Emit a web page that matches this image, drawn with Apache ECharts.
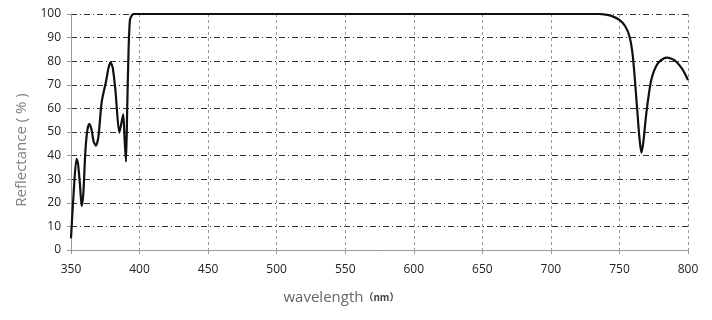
<!DOCTYPE html>
<html><head><meta charset="utf-8">
<script src="https://cdn.jsdelivr.net/npm/echarts@6/dist/echarts.min.js"></script>
<style>html,body{margin:0;padding:0;background:#fff}#c{width:712px;height:320px}</style>
</head><body><div id="c"></div>
<script>
const wavelength = [350,352,354,355,356.5,357.8,359,360.5,362,363.4,365,366.5,368.2,370,372.4,375.5,377.5,378.9,380.5,382.5,385.2,386.5,388.1,389,390.1,391,392,393,394.5,396,400,450,500,550,600,650,700,735,740,745,750,754,757.4,759.8,762.8,764.5,766,767.5,769.6,773.2,778,784.2,788,791.5,796,800];
const reflectance = [5,25,38.6,37,28,18.6,24,42,51,53.5,51,46,44.2,48,62.8,71.3,77.5,79.5,77,67,49.7,53,57.5,48,37.4,60,85,97.5,99.5,100,100,100,100,100,100,100,100,100,99.7,99,97.5,95,90.4,81.9,60.7,48,41.2,46,57.9,72,79.1,81.5,81,79.8,76.5,72];
const xTicks = {min:350, max:800, step:50};
const yTicks = {min:0, max:100, step:10};
const xName = 'wavelength';
const xUnit = '（nm）';
const yName = 'Reflectance ( % )';

const chart = echarts.init(document.getElementById('c'));
chart.setOption({
  animation:false,
  grid:{left:71, right:24, top:14, bottom:70},
  xAxis:{
    type:'value', min:xTicks.min, max:xTicks.max, interval:xTicks.step,
    name:'{a|'+xName+'}{b|'+xUnit+'}', nameLocation:'middle', nameGap:40,
    nameTextStyle:{padding:[0,76,0,0], rich:{a:{fontSize:15,color:'#666',fontFamily:'Open Sans'},b:{fontSize:10,color:'#444',fontWeight:'bold',fontFamily:'Noto Sans CJK SC'}}},
    axisLine:{show:true,lineStyle:{color:'#9a9a9a',width:1}},
    axisTick:{show:true,length:4,lineStyle:{color:'#9a9a9a'}},
    axisLabel:{color:'#222',fontSize:12,margin:14,fontFamily:'Open Sans'},
    splitLine:{show:true,lineStyle:{color:'#999',type:[3,3],width:1}}
  },
  yAxis:{
    type:'value', min:yTicks.min, max:yTicks.max, interval:yTicks.step,
    name:yName, nameLocation:'middle', nameGap:33,
    nameTextStyle:{fontSize:15,color:'#808080',fontFamily:'Open Sans',padding:[0,0,0,-36]},
    axisLine:{show:true,lineStyle:{color:'#9a9a9a',width:1}},
    axisTick:{show:true,length:4,lineStyle:{color:'#9a9a9a'}},
    axisLabel:{color:'#222',fontSize:12,margin:10,fontFamily:'Open Sans'},
    splitLine:{show:true,lineStyle:{color:'#333',type:[6,3,1,3],width:1}}
  },
  series:[{
    type:'line', data:wavelength.map((w,i)=>[w,reflectance[i]]),
    smooth:0.25, showSymbol:false, symbol:'none',
    lineStyle:{color:'#111',width:2.2}
  }]
});
</script></body></html>
